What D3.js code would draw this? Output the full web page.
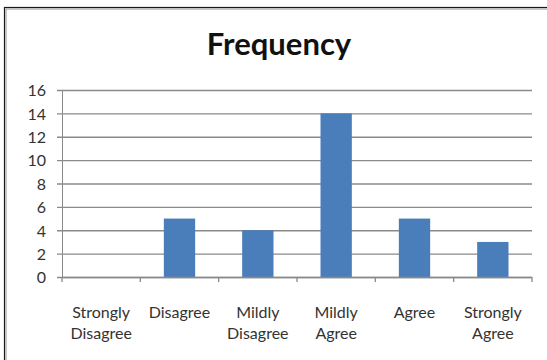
<!DOCTYPE html>
<html>
<head>
<meta charset="utf-8">
<script src="https://cdn.jsdelivr.net/npm/d3@7"></script>
<style>
  html, body { margin: 0; padding: 0; background: #fff; }
  svg { display: block; }
</style>
</head>
<body>
<svg id="chart" width="547" height="360"></svg>
<script>
// Survey responses: how many answered each option
const categories = ["Strongly Disagree", "Disagree", "Mildly Disagree", "Mildly Agree", "Agree", "Strongly Agree"];
const categoryLines = [["Strongly", "Disagree"], ["Disagree"], ["Mildly", "Disagree"], ["Mildly", "Agree"], ["Agree"], ["Strongly", "Agree"]];
const frequency = [0, 5, 4, 14, 5, 3];
const yTicks = [0, 2, 4, 6, 8, 10, 12, 14, 16];
const title = "Frequency";

const svg = d3.select("#chart");
const font = "Lato, 'Open Sans', sans-serif";

// Chart frame (extends past the right and bottom edges)
svg.append("rect")
  .attr("x", 4.5).attr("y", 7.5).attr("width", 700).attr("height", 500)
  .attr("fill", "none").attr("stroke", "#1a1a1a").attr("stroke-width", 1.2);
svg.append("rect")
  .attr("x", 6).attr("y", 9).attr("width", 700).attr("height", 500)
  .attr("fill", "none").attr("stroke", "#b5b5b5").attr("stroke-width", 1.5);

const plot = { left: 62, right: 532, top: 90, bottom: 277 };

const x = d3.scaleBand()
  .domain(categories)
  .range([plot.left, plot.right])
  .paddingInner(0.6)
  .paddingOuter(0.3);

const xEdges = d3.scaleLinear()
  .domain([0, categories.length])
  .range([plot.left, plot.right]);

const y = d3.scaleLinear()
  .domain([0, 16])
  .range([plot.bottom, plot.top]);

// Horizontal gridlines and left axis
const yAxis = d3.axisLeft(y)
  .tickValues(yTicks)
  .tickSize(-(plot.right - plot.left))
  .tickPadding(0)
  .tickFormat(d3.format("d"));

const gy = svg.append("g")
  .attr("transform", `translate(${plot.left},0)`)
  .call(yAxis);
gy.select(".domain").attr("stroke", "#8a8a8a");
gy.selectAll(".tick line").attr("stroke", "#8a8a8a").attr("stroke-width", 1.3)
  .attr("x1", -5);
gy.selectAll(".tick text")
  .attr("x", -16)
  .attr("dy", "0.36em")
  .attr("fill", "#333")
  .style("font-family", font)
  .style("font-size", "16px");

// Bars
svg.append("g").selectAll("rect")
  .data(frequency)
  .join("rect")
  .attr("x", (d, i) => x(categories[i]))
  .attr("width", x.bandwidth())
  .attr("y", d => y(d))
  .attr("height", d => y(0) - y(d))
  .attr("fill", "#4a7ebb");

// Bottom axis line with ticks at category boundaries
const gx = svg.append("g");
gx.append("line")
  .attr("x1", plot.left).attr("x2", plot.right)
  .attr("y1", y(0) + 0.5).attr("y2", y(0) + 0.5)
  .attr("stroke", "#8a8a8a").attr("stroke-width", 1.3);
gx.selectAll("line.tick")
  .data(d3.range(categories.length + 1))
  .join("line")
  .attr("class", "tick")
  .attr("x1", i => xEdges(i)).attr("x2", i => xEdges(i))
  .attr("y1", y(0)).attr("y2", y(0) + 5)
  .attr("stroke", "#8a8a8a").attr("stroke-width", 1.3);

// Category labels (one or two lines)
gx.selectAll("text")
  .data(categories)
  .join("text")
  .attr("x", d => x(d) + x.bandwidth() / 2)
  .attr("y", 318)
  .attr("text-anchor", "middle")
  .attr("fill", "#333")
  .style("font-family", font)
  .style("font-size", "16px")
  .each(function(d, i) {
    const t = d3.select(this);
    categoryLines[i].forEach((line, k) => {
      t.append("tspan")
        .attr("x", x(d) + x.bandwidth() / 2)
        .attr("dy", k === 0 ? 0 : 21)
        .text(line);
    });
  });

// Title
svg.append("text")
  .attr("x", 279)
  .attr("y", 55)
  .attr("text-anchor", "middle")
  .attr("fill", "#111")
  .style("font-family", font)
  .style("font-weight", "bold")
  .style("font-size", "31px")
  .text(title);
</script>
</body>
</html>
